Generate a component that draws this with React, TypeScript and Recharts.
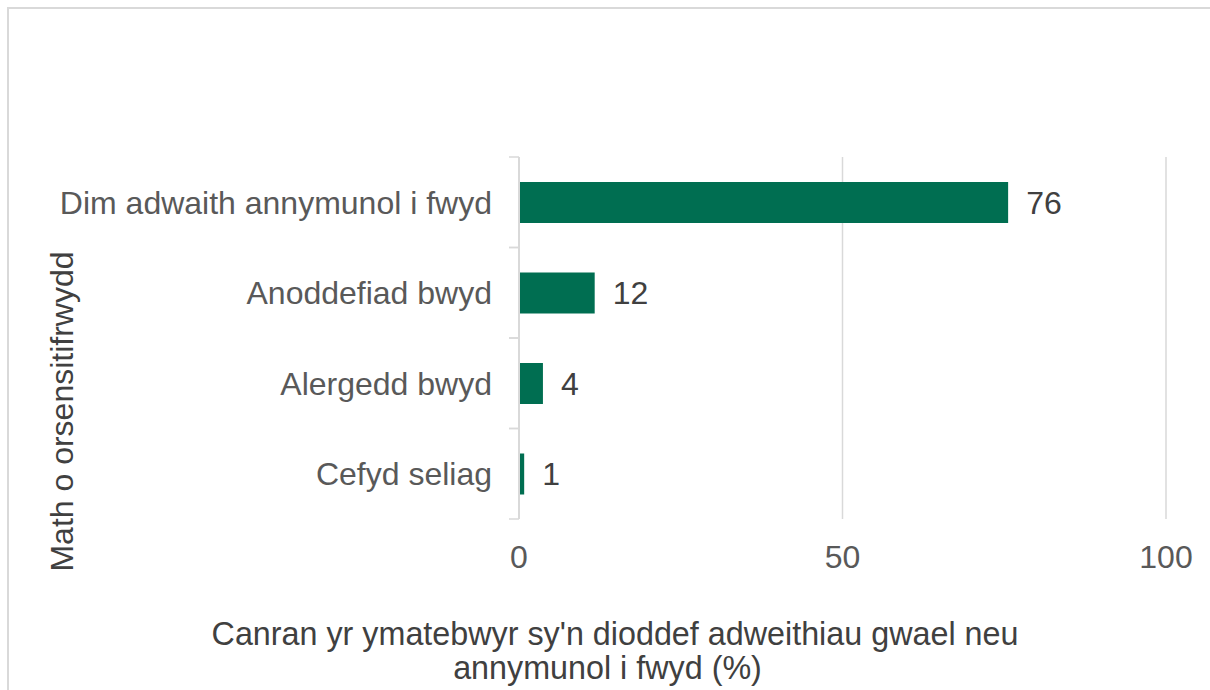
import React from "react"
import { BarChart, Bar, XAxis, YAxis, CartesianGrid, LabelList, Label } from "recharts"

const categories = [
  "Dim adwaith annymunol i fwyd",
  "Anoddefiad bwyd",
  "Alergedd bwyd",
  "Cefyd seliag",
]
const percentages = [75.6, 11.7, 3.7, 0.8]
const xTicks = [0, 50, 100]

const yTitle = "Math o orsensitifrwydd"
const xTitleLines = ["Canran yr ymatebwyr sy'n dioddef adweithiau gwael neu", "annymunol i fwyd (%)"]

const data = categories.map((name, i) => ({ name, value: percentages[i] }))

const FONT = "'Liberation Sans', Arial, sans-serif"
const GRID = "#d9d9d9"
const BAR = "#006e51"

const CategoryTick = (props: any) => {
  const { x, y, payload } = props
  const half = payload.offset ?? 0
  return (
    <g>
      <line x1={x - 10} x2={x} y1={y - half} y2={y - half} stroke={GRID} strokeWidth={1.5} />
      <line x1={x - 10} x2={x} y1={y + half} y2={y + half} stroke={GRID} strokeWidth={1.5} />
      <text x={x - 27} y={y} dy="0.355em" textAnchor="end" fill="#595959" fontSize={32} fontFamily={FONT}>
        {payload.value}
      </text>
    </g>
  )
}

export default function App() {
  return (
    <div
      style={{
        position: "fixed",
        left: 7,
        top: 7,
        width: 1203,
        height: 683,
        overflow: "hidden",
        borderTop: `2px solid ${GRID}`,
        borderLeft: `2px solid ${GRID}`,
        background: "#fff",
      }}
    >
      <BarChart
        width={1201}
        height={681}
        data={data}
        layout="vertical"
        margin={{ top: 148, right: 44, bottom: 111, left: 0 }}
      >
        <CartesianGrid horizontal={false} stroke={GRID} strokeWidth={1.5} />
        <XAxis
          type="number"
          domain={[0, 100]}
          ticks={xTicks}
          axisLine={false}
          tickLine={false}
          tickSize={0}
          tickMargin={26}
          height={60}
          tick={{ fill: "#595959", fontSize: 32, fontFamily: FONT }}
        >
          <Label
            content={() => (
              <text fill="#404040" fontSize={32.3} fontFamily={FONT} textAnchor="middle">
                <tspan x={606} y={636}>{xTitleLines[0]}</tspan>
                <tspan x={598.5} y={670}>{xTitleLines[1]}</tspan>
              </text>
            )}
          />
        </XAxis>
        <YAxis
          type="category"
          dataKey="name"
          width={510}
          axisLine={{ stroke: GRID, strokeWidth: 2 }}
          tickLine={false}
          tickSize={0}
          tickMargin={0}
          tick={<CategoryTick />}
          interval={0}
        >
          <Label
            content={() => (
              <text
                transform="translate(52.5, 402.5) rotate(-90)"
                dy="0.358em"
                textAnchor="middle"
                fill="#404040"
                fontSize={32}
                fontFamily={FONT}
              >
                {yTitle}
              </text>
            )}
          />
        </YAxis>
        <Bar dataKey="value" fill={BAR} barSize={41} isAnimationActive={false}>
          <LabelList
            dataKey="value"
            position="right"
            offset={18}
            formatter={(v: any) => Math.round(Number(v))}
            fill="#404040"
            fontSize={32}
            fontFamily={FONT}
          />
        </Bar>
      </BarChart>
    </div>
  )
}
